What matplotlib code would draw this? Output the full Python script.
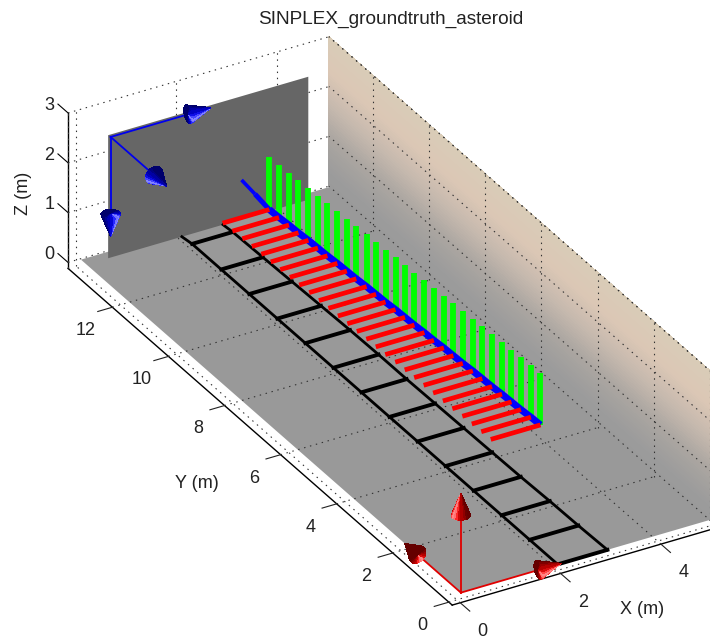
import numpy as np
import matplotlib
matplotlib.use("Agg")
import matplotlib.pyplot as plt
from mpl_toolkits.mplot3d.art3d import Poly3DCollection

plt.rcParams['font.family'] = ['Liberation Sans', 'DejaVu Sans']

W, H = 710, 639

# axis limits and ticks
xlim = (-0.16, 5.04)
ylim = (-0.12, 13.58)
zlim = (-0.12, 3.0)
xticks = [0, 2, 4]
yticks = [0, 2, 4, 6, 8, 10, 12]
zticks = [0, 1, 2, 3]

# black ladder on the ground
rung_y = [0.00, 1.00, 2.00, 3.00, 4.00, 5.00, 6.00, 7.00, 8.00, 9.00, 10.00, 11.00, 12.00, 13.04]
rung_left = [2.01, 2.01, 2.01, 2.01, 2.01, 2.01, 2.01, 2.01, 2.01, 2.01, 2.01, 2.01, 2.01, 2.01]
rung_right = [3.00, 2.98, 2.97, 2.95, 2.94, 2.93, 2.92, 2.91, 2.91, 2.90, 2.88, 2.86, 2.84, 2.82]
rail_end_y = 13.35
rail_end_left = 1.98
rail_end_right = 2.80

# red/green/blue bars along the track
bar_y = [4.41, 4.73, 5.05, 5.37, 5.69, 6.01, 6.34, 6.66, 6.98, 7.30, 7.62, 7.94, 8.26, 8.58, 8.90,
         9.22, 9.54, 9.86, 10.18, 10.51, 10.83, 11.15, 11.47, 11.79, 12.11, 12.43, 12.75, 13.07, 13.40]
bar_right = [4.13, 4.12, 4.10, 4.09, 4.08, 4.06, 4.05, 4.04, 4.02, 4.01, 4.00, 3.98, 3.97, 3.95, 3.94,
             3.93, 3.91, 3.90, 3.89, 3.87, 3.86, 3.85, 3.83, 3.82, 3.81, 3.79, 3.78, 3.76, 3.75]
bar_left = [3.14, 3.13, 3.12, 3.11, 3.09, 3.08, 3.07, 3.06, 3.05, 3.04, 3.03, 3.01, 3.00, 2.99, 2.98,
            2.97, 2.96, 2.95, 2.94, 2.93, 2.91, 2.90, 2.89, 2.88, 2.87, 2.86, 2.85, 2.83, 2.82]
green_top = 1.05
# thin end of the blue line, past the last bar
blue_end_x = [3.75, 3.80, 3.84]
blue_end_y = [13.40, 14.00, 14.55]

# dark panel at the far end
panel_x = (0.51, 4.5)
panel_y = 13.35
panel_z = (0.0, 2.47)
ground_x = (0.08, 5.04)
ground_y = (0.0, 13.55)

# the two arrow frames
red_origin = (0.08, 0.0, 0.0)
red_dirs = [(2, 0, 0), (0, 2, 0), (0, 0, 2)]
blue_origin = (0.56, 13.35, 2.42)
blue_dirs = [(2, 0, 0), (0, -2, 0), (0, 0, -2)]

# wall colour against height
wall_z = [-0.2, 0.3, 1.0, 1.6, 2.3, 3.0]
wall_r = [0.60, 0.61, 0.67, 0.77, 0.86, 0.85]
wall_g = [0.60, 0.61, 0.65, 0.72, 0.78, 0.80]
wall_b = [0.60, 0.61, 0.63, 0.68, 0.71, 0.72]


def px(x, y):
    return x / W, 1 - y / H


fig = plt.figure(figsize=(W / 100, H / 100), dpi=100)

# square axes bigger than the figure so that the scene runs off the right edge
L = 820
cx, cy = 379.5, 332
ax = fig.add_axes([(cx - L / 2) / W, 1 - (cy + L / 2) / H, L / W, L / H],
                  projection='3d', computed_zorder=False, proj_type='ortho')
ax.view_init(elev=30.4, azim=-120)
ax.set_xlim(xlim)
ax.set_ylim(ylim)
ax.set_zlim(zlim)
ax.set_box_aspect(((xlim[1] - xlim[0]) * 1.033, ylim[1] - ylim[0], (zlim[1] - zlim[0]) * 1.03))
ax.patch.set_alpha(0)

ax.set_xticks(xticks)
ax.set_yticks(yticks)
ax.set_zticks(zticks)
ax.grid(False)
# the inward factor is the one that points out of the box from this side
for axis, pad, tick_len in ((ax.xaxis, 10, 0.31), (ax.yaxis, 23, 0.7), (ax.zaxis, 1, 0.0)):
    axis.set_pane_color((1, 1, 1, 0))
    axis.pane.set_edgecolor((1, 1, 1, 0))
    axis.line.set_color('black')
    axis.line.set_linewidth(1.0)
    axis._axinfo['tick']['inward_factor'] = tick_len
    axis._axinfo['tick']['outward_factor'] = 0.0
    axis._axinfo['tick']['linewidth'] = {True: 0.8, False: 0.5}
    axis.set_tick_params(labelsize=13, pad=pad, colors='#222222')
    for lab in axis.get_ticklabels():
        lab.set_va('center')

# z ticks lean back along y in the original
for t in zticks:
    ax.plot([xlim[0], xlim[0]], [ylim[1], ylim[1] + 0.36], [t, t], color='black', linewidth=0.8, zorder=1)

# right hand wall with the colour running up it
yy, zz = np.meshgrid([ylim[0], ylim[1]], np.linspace(0, 3, 61))
cols = np.dstack([np.interp(zz, wall_z, wall_r), np.interp(zz, wall_z, wall_g),
                  np.interp(zz, wall_z, wall_b), np.ones_like(zz)])
ax.plot_surface(np.full_like(yy, xlim[1]), yy, zz, facecolors=cols, rstride=1, cstride=1,
                shade=False, linewidth=0, antialiased=False, zorder=2)

# ground
gx, gy = ground_x, ground_y
ax.add_collection3d(Poly3DCollection([[(gx[0], gy[0], 0), (gx[1], gy[0], 0), (gx[1], gy[1], 0), (gx[0], gy[1], 0)]],
                                     facecolor='#999999', edgecolor='none', zorder=3))

# dotted grid, on top of the ground as in the original
dots = dict(color='#333333', linewidth=0.8, linestyle=(0, (1.3, 4.2)), dash_capstyle='butt')
for t in xticks:
    ax.plot([t, t], [ylim[0], ylim[1]], [zlim[0], zlim[0]], zorder=4, **dots)
    ax.plot([t, t], [ylim[1], ylim[1]], [zlim[0], zlim[1]], zorder=1, **dots)
for t in yticks:
    ax.plot([xlim[0], xlim[1]], [t, t], [zlim[0], zlim[0]], zorder=4, **dots)
    ax.plot([xlim[1], xlim[1]], [t, t], [zlim[0], zlim[1]], zorder=4, **dots)
for t in zticks:
    ax.plot([xlim[0], xlim[1]], [ylim[1], ylim[1]], [t, t], zorder=1, **dots)
    ax.plot([xlim[1], xlim[1]], [ylim[0], ylim[1]], [t, t], zorder=4, **dots)
ax.plot([xlim[1], xlim[1]], [ylim[0], ylim[1]], [zlim[1], zlim[1]], zorder=4, **dots)
ax.plot([xlim[0], xlim[0]], [ylim[1], ylim[1]], [zlim[0], zlim[1]], zorder=1, **dots)

# panel
ax.add_collection3d(Poly3DCollection([[(panel_x[0], panel_y, panel_z[0]), (panel_x[1], panel_y, panel_z[0]),
                                       (panel_x[1], panel_y, panel_z[1]), (panel_x[0], panel_y, panel_z[1])]],
                                     facecolor='#666666', edgecolor='none', zorder=3.5))

# ladder
ax.plot(rung_left + [rail_end_left], rung_y + [rail_end_y], np.zeros(len(rung_y) + 1),
        color='black', linewidth=2.0, zorder=6)
ax.plot(rung_right + [rail_end_right], rung_y + [rail_end_y], np.zeros(len(rung_y) + 1),
        color='black', linewidth=2.0, zorder=6)
for a, b, y in zip(rung_left, rung_right, rung_y):
    ax.plot([a, b], [y, y], [0, 0], color='black', linewidth=2.8, zorder=6)

# green, blue, red bars
for x, y in zip(bar_right, bar_y):
    ax.plot([x, x], [y, y], [0, green_top], color='#00ff00', linewidth=4.2,
            solid_capstyle='butt', zorder=7)
ax.plot(bar_right, bar_y, np.zeros(len(bar_y)), color='#0000ff', linewidth=5.0,
        solid_capstyle='butt', zorder=8)
ax.plot(blue_end_x[:2], blue_end_y[:2], [0, 0], color='#0000ff', linewidth=3.6,
        solid_capstyle='butt', zorder=8)
ax.plot(blue_end_x[1:], blue_end_y[1:], [0, 0], color='#0000ff', linewidth=2.6,
        solid_capstyle='butt', zorder=8)
for a, b, y in zip(bar_left, bar_right, bar_y):
    ax.plot([a, b], [y, y], [0, 0], color='#ff0000', linewidth=3.4,
            solid_capstyle='butt', zorder=9)


def arrow(origin, d, color, zorder):
    o = np.array(origin, dtype=float)
    d = np.array(d, dtype=float)
    u = d / np.linalg.norm(d)
    head, rad = 0.45, 0.17
    base = o + d - head * u
    ax.plot([o[0], base[0]], [o[1], base[1]], [o[2], base[2]], color=color, linewidth=1.3, zorder=zorder)
    a = np.cross(u, [0.3, 0.5, 0.8])
    a = a / np.linalg.norm(a)
    b = np.cross(u, a)
    th = np.linspace(0, 2 * np.pi, 25)
    T, R = np.meshgrid(th, [0.0, rad, 0.0])
    S = np.array([[head], [0.0], [0.0]])
    X = base[0] + S * u[0] + R * (np.cos(T) * a[0] + np.sin(T) * b[0])
    Y = base[1] + S * u[1] + R * (np.cos(T) * a[1] + np.sin(T) * b[1])
    Z = base[2] + S * u[2] + R * (np.cos(T) * a[2] + np.sin(T) * b[2])
    # darker all round with one bright streak down the cone
    rgb = np.array(matplotlib.colors.to_rgb(color))
    lit = np.clip(np.cos(T - 0.6), 0, 1)
    fc = (0.45 + 0.55 * lit)[..., None] * rgb + (lit ** 12 * 0.55)[..., None]
    fc = np.dstack([np.clip(fc, 0, 1), np.ones_like(T)])
    ax.plot_surface(X, Y, Z, facecolors=fc, shade=False, rstride=1, cstride=1,
                    linewidth=0, antialiased=False, zorder=zorder + 0.1)


for d in red_dirs:
    arrow(red_origin, d, '#e00000', 10)
for d in blue_dirs:
    arrow(blue_origin, d, '#0000ee', 11)

# title and axis labels
fig.text(*px(391, 19), 'SINPLEX_groundtruth_asteroid', fontsize=13.7, ha='center', va='center', color='#222222')
fig.text(*px(642, 610), 'X (m)', fontsize=13, ha='center', va='center', color='#222222')
fig.text(*px(197, 483), 'Y (m)', fontsize=13, ha='center', va='center', color='#222222')
fig.text(*px(23, 193), 'Z (m)', fontsize=13, ha='center', va='center', rotation=90, color='#222222')

fig.savefig('out.png', dpi=100)
